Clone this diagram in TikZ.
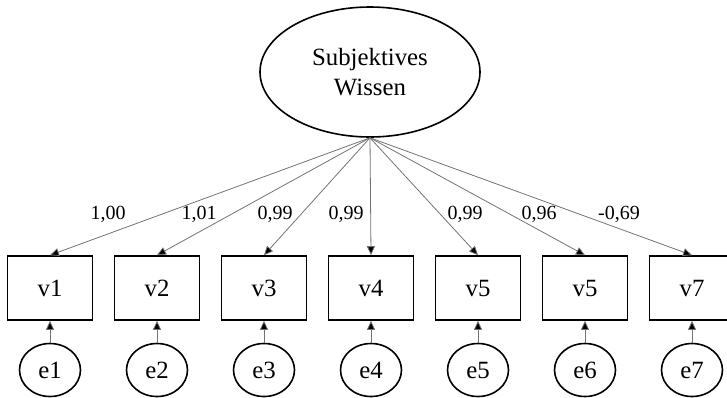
\documentclass[tikz,border=0pt]{standalone}
\usepackage{fontspec}
\setmainfont{Liberation Serif}
\usetikzlibrary{shapes,positioning,arrows.meta}
\tikzset{latent/.style={draw, ellipse, thick, align=center, minimum width=110pt, minimum height=65pt, inner sep=0pt, font=\fontsize{12.4}{15}\selectfont}}
\tikzset{obs/.style={draw, rectangle, thick, minimum width=42.5pt, minimum height=32pt, inner sep=0pt, font=\fontsize{12.4}{15}\selectfont}}
\tikzset{err/.style={draw, ellipse, thick, minimum width=30.5pt, minimum height=26.5pt, inner sep=0pt, font=\fontsize{12.4}{15}\selectfont}}
\tikzset{load/.style={draw=black!55, line width=0.4pt, -{Triangle[length=4.5pt,width=4pt,fill=black]}}}
\tikzset{coef/.style={inner sep=0pt, font=\fontsize{10}{12}\selectfont}}

\begin{document}
\begin{tikzpicture}[x=0.5pt, y=-0.5pt, on grid]
			\useasboundingbox (0,0) rectangle (727,397);
			\node[latent] (SW) at (370,72) {Subjektives\\Wissen};
			
			\node[obs] (v1) at (50,288) {v1};
			\node[obs] (v2) [right = 53.5pt of v1] {v2};
			\node[obs] (v3) [right = 53.5pt of v2] {v3};
			\node[obs] (v4) [right = 53.5pt of v3] {v4};
			\node[obs] (v5) [right = 53.5pt of v4] {v5};
			\node[obs] (v6) [right = 53.5pt of v5] {v5};
			\node[obs] (v7) [right = 53.5pt of v6] {v7};
			
			\node[err] (e1) [below = 41pt of v1] {e1};
			\node[err] (e2) [below = 41pt of v2] {e2};
			\node[err] (e3) [below = 41pt of v3] {e3};
			\node[err] (e4) [below = 41pt of v4] {e4};
			\node[err] (e5) [below = 41pt of v5] {e5};
			\node[err] (e6) [below = 41pt of v6] {e6};
			\node[err] (e7) [below = 41pt of v7] {e7};
			
			
			\path (SW.south) edge [load] (v1.north);
			\path (SW.south) edge [load] (v2.north);
			\path (SW.south) edge [load] (v3.north);
			\path (SW.south) edge [load] (v4.north);
			\path (SW.south) edge [load] (v5.north);
			\path (SW.south) edge [load] (v6.north);
			\path (SW.south) edge [load] (v7.north);
			
			\node[coef] (l1) at (108,214) {1,00};
			\node[coef] (l2) at (199,214) {1,01};
			\node[coef] (l3) at (275,214) {0,99};
			\node[coef] (l4) at (346,214) {0,99};
			\node[coef] (l5) at (465,214) {0,99};
			\node[coef] (l6) at (539,214) {0,96};
			\node[coef] (l7) at (619,214) {-0,69};
			
			
			\path (e1) edge [load] (v1);
			\path (e2) edge [load] (v2);
			\path (e3) edge [load] (v3);
			\path (e4) edge [load] (v4);
			\path (e5) edge [load] (v5);
			\path (e6) edge [load] (v6);
			\path (e7) edge [load] (v7);
		\end{tikzpicture}
\end{document}
